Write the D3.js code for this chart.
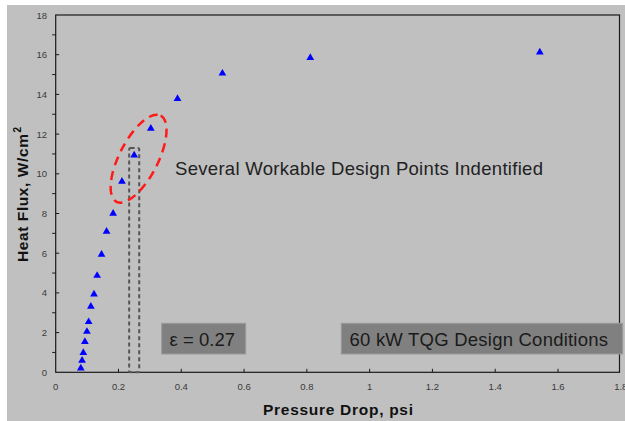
<!DOCTYPE html>
<html><head><meta charset="utf-8">
<script src="https://cdn.jsdelivr.net/npm/d3@7/dist/d3.min.js"></script>
<style>
html,body{margin:0;padding:0;background:#fff;}
svg{display:block;font-family:"Liberation Sans",Arial,sans-serif;}
</style></head>
<body>
<svg id="chart" width="625" height="421"></svg>
<script>
const pressureDrop = [0.080,0.084,0.088,0.093,0.0995,0.105,0.112,0.122,0.132,0.146,0.162,0.183,0.211,0.250,0.303,0.388,0.531,0.811,1.542];
const heatFlux     = [0.20,0.59,0.99,1.54,2.05,2.54,3.31,3.93,4.87,5.93,7.09,8.00,9.61,10.94,12.28,13.78,15.06,15.85,16.12];
const xTicks = [0,0.2,0.4,0.6,0.8,1,1.2,1.4,1.6,1.8];
const yTicks = [0,2,4,6,8,10,12,14,16,18];
const yMinorTicks = [1,3,5,7,9,11,13,15,17];
const xTitle = "Pressure Drop, psi";
const yTitle = "Heat Flux, W/cm";
const annotationMain = "Several Workable Design Points Indentified";
const epsLabel = "ε = 0.27";
const condLabel = "60 kW TQG Design Conditions";
const bandRange = [0.234, 0.266];
const bandTop = 11.3;
const ellipseCenter = [0.264, 10.76];

const svg = d3.select("#chart");
const L = 55.7, R = 619.5, T = 15, B = 372.3;
const x = d3.scaleLinear().domain([0,1.8]).range([L, R+1.3]);
const y = d3.scaleLinear().domain([0,18]).range([B, T]);

// panel background
svg.append("rect").attr("x",7).attr("y",5).attr("width",618).attr("height",416).attr("fill","#c0c0c0");

// frame
svg.append("rect").attr("x",L).attr("y",T).attr("width",R-L).attr("height",B-T)
  .attr("fill","none").attr("stroke","#1a1a1a").attr("stroke-width",1.2);

// x axis ticks (inside)
const gx = svg.append("g");
gx.selectAll("line").data(xTicks.slice(1,-1)).join("line")
  .attr("x1",d=>x(d)).attr("x2",d=>x(d)).attr("y1",B).attr("y2",B-3.5)
  .attr("stroke","#1a1a1a").attr("stroke-width",1);
gx.selectAll("text").data(xTicks).join("text")
  .attr("x",d=>x(d)).attr("y",B+18).attr("text-anchor","middle")
  .attr("font-size",9.5).attr("fill","#3a3a3a").text(d=>d3.format("~g")(d));

// y axis ticks: major inside, minor outside
const gy = svg.append("g");
gy.selectAll("line.maj").data(yTicks.slice(1,-1)).join("line").attr("class","maj")
  .attr("x1",L).attr("x2",L+3.5).attr("y1",d=>y(d)).attr("y2",d=>y(d))
  .attr("stroke","#1a1a1a").attr("stroke-width",1);
gy.selectAll("line.min").data(yMinorTicks).join("line").attr("class","min")
  .attr("x1",L).attr("x2",L-3.5).attr("y1",d=>y(d)).attr("y2",d=>y(d))
  .attr("stroke","#1a1a1a").attr("stroke-width",1);
gy.selectAll("text").data(yTicks).join("text")
  .attr("x",47).attr("y",d=>y(d)+3.5).attr("text-anchor","end")
  .attr("font-size",9.5).attr("fill","#3a3a3a").text(d=>d);

// dashed band rectangle
svg.append("rect")
  .attr("x",x(bandRange[0])).attr("y",y(bandTop))
  .attr("width",x(bandRange[1])-x(bandRange[0])).attr("height",y(0)-y(bandTop))
  .attr("rx",1.5)
  .attr("fill","none").attr("stroke","#555").attr("stroke-width",2).attr("stroke-dasharray","4,3");

// red dashed ellipse
svg.append("ellipse")
  .attr("transform",`translate(${x(ellipseCenter[0])},${y(ellipseCenter[1])}) rotate(-62.9)`)
  .attr("rx",48.4).attr("ry",19.3)
  .attr("fill","none").attr("stroke","#ff1a1a").attr("stroke-width",2.5).attr("stroke-dasharray","9,6");

// markers
const tri = d3.symbol().type(d3.symbolTriangle).size(26);
svg.append("g").selectAll("path").data(pressureDrop.map((p,i)=>[p,heatFlux[i]])).join("path")
  .attr("d",tri).attr("transform",d=>`translate(${x(d[0])},${y(d[1])})`)
  .attr("fill","#0000ff");

// main annotation
svg.append("text").attr("x",175).attr("y",174.5).attr("font-size",18.5).attr("fill","#222")
  .attr("textLength",368).attr("lengthAdjust","spacing")
  .text(annotationMain);

// boxes
function box(x0,y0,w,h,label,tx,tl){
  svg.append("rect").attr("x",x0).attr("y",y0).attr("width",w).attr("height",h)
    .attr("fill","#808080").attr("stroke","#9a9a9a").attr("stroke-width",1);
  svg.append("text").attr("x",tx).attr("y",346).attr("font-size",18.5).attr("fill","#1a1a1a")
    .attr("textLength",tl).attr("lengthAdjust","spacing").text(label);
}
box(161.7,323.3,84,30.7,epsLabel,169.5,65.5);
box(341.3,323.3,281.4,30.7,condLabel,349.5,258.5);

// axis titles
svg.append("text").attr("x",263).attr("y",415)
  .attr("font-size",15.5).attr("font-weight","bold").attr("fill","#111")
  .attr("textLength",150).attr("lengthAdjust","spacing").text(xTitle);
const yt = svg.append("text").attr("transform","translate(28,262) rotate(-90)")
  .attr("font-size",15.5).attr("font-weight","bold").attr("fill","#111");
yt.append("tspan").attr("textLength",128).attr("lengthAdjust","spacing").text(yTitle);
yt.append("tspan").attr("dx",1).attr("dy",-7).attr("font-size",10).text("2");
</script>
</body></html>
